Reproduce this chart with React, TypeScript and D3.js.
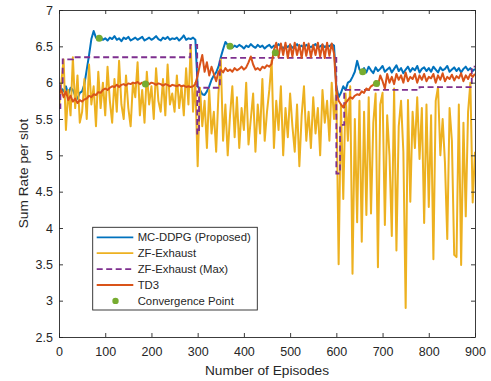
import React, { useRef, useEffect } from 'react';
import * as d3 from 'd3';

// sampled every 5 episodes (0..900)
const mcDdpg = [
  5.86, 5.92, 5.88, 5.95, 5.84, 5.93, 5.90, 5.82, 5.78, 5.86,
  5.88, 5.98, 6.18, 6.38, 6.60, 6.71, 6.62, 6.60, 6.63, 6.59,
  6.61, 6.58, 6.62, 6.60, 6.64, 6.59, 6.61, 6.57, 6.62, 6.60,
  6.63, 6.58, 6.60, 6.62, 6.59, 6.61, 6.63, 6.58, 6.60, 6.62,
  6.59, 6.61, 6.64, 6.60, 6.58, 6.62, 6.60, 6.63, 6.59, 6.61,
  6.60, 6.62, 6.58, 6.61, 6.65, 6.59, 6.61, 6.60, 6.62, 6.59,
  5.95, 5.90, 5.84, 5.83, 5.88, 5.95, 6.04, 6.10, 6.14, 6.22,
  6.35, 6.46, 6.56, 6.52, 6.50, 6.48, 6.51, 6.49, 6.52, 6.50,
  6.47, 6.51, 6.49, 6.53, 6.50, 6.48, 6.52, 6.49, 6.51, 6.47,
  6.50, 6.52, 6.48, 6.51, 6.49, 6.53, 6.50, 6.47, 6.51, 6.49,
  6.52, 6.48, 6.50, 6.53, 6.49, 6.51, 6.48, 6.52, 6.50, 6.49,
  6.51, 6.53, 6.48, 6.50, 6.52, 6.49, 6.51, 6.50, 6.53, 6.51,
  5.95, 5.80, 5.86, 5.95, 5.90, 6.00, 6.02, 6.08, 6.15, 6.30,
  6.18, 6.16, 6.20, 6.14, 6.22, 6.17, 6.13, 6.21, 6.16, 6.19,
  6.23, 6.15, 6.18, 6.21, 6.14, 6.19, 6.24, 6.16, 6.20, 6.13,
  6.18, 6.22, 6.15, 6.20, 6.17, 6.23, 6.14, 6.19, 6.21, 6.16,
  6.20, 6.15, 6.22, 6.18, 6.14, 6.21, 6.17, 6.19, 6.23, 6.15,
  6.18, 6.21, 6.16, 6.20, 6.14, 6.19, 6.22, 6.17, 6.20, 6.16,
  6.19,
];

const zfExhaust = [
  5.65, 6.00, 6.32, 5.35, 5.90, 5.55, 6.35, 5.65, 6.10, 5.45,
  5.60, 6.05, 5.50, 6.25, 5.70, 5.95, 5.40, 6.15, 5.65, 6.00,
  5.55, 6.22, 5.75, 5.45, 6.05, 5.60, 6.30, 5.70, 5.50, 6.10,
  5.65, 5.40, 6.00, 5.80, 6.28, 5.55, 5.90, 5.45, 6.15, 5.70,
  5.95, 5.50, 6.20, 5.75, 5.60, 6.05, 5.55, 6.25, 5.70, 5.85,
  5.60, 6.10, 5.65, 5.95, 5.55, 6.20, 5.70, 6.52, 5.60, 6.00,
  4.85, 5.93, 5.40, 5.75, 5.10, 5.90, 5.30, 5.60, 5.05, 5.85,
  6.32, 5.20, 5.70, 5.00, 5.55, 5.95, 5.25, 5.80, 5.10, 5.65,
  5.35, 6.00, 5.15, 5.50, 5.85, 5.05, 5.70, 5.30, 6.05, 5.20,
  5.60, 5.90, 6.30, 5.10, 5.75, 5.35, 5.95, 5.00, 5.65, 5.25,
  5.85, 5.40, 5.05, 5.70, 4.85, 5.55, 5.95, 5.20, 5.60, 5.10,
  5.80, 5.30, 5.65, 5.00, 5.90, 5.45, 5.75, 5.20, 6.00, 5.50,
  5.90, 3.50, 5.70, 4.40, 5.85, 5.20, 5.95, 3.37, 5.50, 4.08,
  5.75, 3.81, 5.60, 4.18, 5.80, 4.20, 5.45, 5.85, 3.46, 5.70,
  5.86, 4.04, 5.55, 5.00, 3.89, 5.92, 3.69, 5.40, 5.75, 5.05,
  2.90, 5.76, 4.36, 5.60, 5.10, 5.80, 4.95, 5.65, 4.07, 5.70,
  4.29, 5.55, 3.57, 5.75, 5.94, 5.00, 5.50, 4.90, 3.85, 5.65,
  5.20, 3.63, 3.60, 5.70, 3.49, 5.45, 4.16, 5.60, 6.00, 4.35,
  5.05,
];

const td3 = [
  5.85, 5.90, 5.80, 5.88, 5.76, 5.82, 5.74, 5.78, 5.72, 5.76,
  5.74, 5.77, 5.78, 5.82, 5.80, 5.84, 5.83, 5.87, 5.86, 5.90,
  5.92, 5.90, 5.93, 5.95, 5.94, 5.97, 5.94, 5.97, 5.98, 5.96,
  5.99, 5.98, 6.00, 5.99, 6.01, 5.98, 6.00, 5.99, 6.01, 5.98,
  6.00, 5.99, 5.97, 5.99, 5.98, 5.96, 5.98, 5.97, 5.95, 5.97,
  5.96, 5.95, 5.97, 5.95, 5.96, 5.94, 5.95, 5.94, 5.95, 5.98,
  6.10, 6.25, 6.38, 6.15, 6.28, 6.10, 6.22, 6.12, 6.02, 6.15,
  6.18, 6.14, 6.20, 6.16, 6.18, 6.15, 6.20, 6.17, 6.19, 6.22,
  6.18, 6.21, 6.28, 6.36, 6.25, 6.18, 6.20, 6.17, 6.22, 6.20,
  6.24, 6.22, 6.26, 6.45, 6.55, 6.35, 6.54, 6.38, 6.55, 6.34,
  6.53, 6.36, 6.55, 6.38, 6.52, 6.34, 6.55, 6.37, 6.54, 6.35,
  6.52, 6.38, 6.55, 6.36, 6.53, 6.34, 6.55, 6.37, 6.54, 6.40,
  5.90, 5.75, 5.70, 5.66, 5.72, 5.76, 5.80, 5.78, 5.82, 5.84,
  5.83, 5.88, 5.86, 5.92, 5.90, 5.95, 5.97, 6.02, 5.96, 6.10,
  6.02, 5.92, 6.12, 6.00, 6.08, 5.98, 6.12, 6.04, 6.10, 6.00,
  6.14, 6.02, 6.08, 6.05, 6.12, 6.00, 6.10, 6.04, 6.12, 6.02,
  6.08, 6.06, 6.12, 6.00, 6.10, 6.04, 6.13, 6.02, 6.08, 6.05,
  6.11, 6.03, 6.09, 6.06, 6.13, 6.02, 6.10, 6.05, 6.12, 6.08,
  6.12,
];

// step changes of the max curve
const maxEpisodes = [0, 3, 8, 30, 284, 299, 303, 348, 600, 608, 617, 780, 893, 900];
const maxValues = [5.65, 6.0, 6.32, 6.35, 6.52, 5.3, 5.93, 6.34, 4.75, 5.42, 5.9, 5.94, 6.22, 6.22];

const convEpisodes = [87, 187, 370, 468, 657, 687];
const convValues = [6.61, 5.98, 6.5, 6.41, 6.15, 5.99];

const xTicks = [0, 100, 200, 300, 400, 500, 600, 700, 800, 900];
const yTicks = [2.5, 3, 3.5, 4, 4.5, 5, 5.5, 6, 6.5, 7];

const legendItems = [
  { label: 'MC-DDPG (Proposed)', color: '#0072BD', kind: 'line' },
  { label: 'ZF-Exhaust', color: '#EDB120', kind: 'line' },
  { label: 'ZF-Exhaust (Max)', color: '#7E2F8E', kind: 'dash' },
  { label: 'TD3', color: '#D95319', kind: 'line' },
  { label: 'Convergence Point', color: '#77AC30', kind: 'dot' },
];

export default function App() {
  const svgRef = useRef<SVGSVGElement>(null);

  useEffect(() => {
    document.body.style.margin = '0';
    const width = 491;
    const height = 381;
    const left = 59, right = 475, top = 10, bottom = 337;
    const font = '"Liberation Sans", Arial, sans-serif';
    const ink = '#262626';

    const x = d3.scaleLinear().domain([0, 900]).range([left, right]);
    const y = d3.scaleLinear().domain([2.5, 7]).range([bottom, top]);

    const svg = d3.select(svgRef.current);
    svg.selectAll('*').remove();
    svg.attr('width', width).attr('height', height).attr('viewBox', [0, 0, width, height].join(' '));

    svg.append('rect').attr('width', width).attr('height', height).attr('fill', '#fff');

    svg.append('clipPath').attr('id', 'plot-clip')
      .append('rect').attr('x', left).attr('y', top).attr('width', right - left).attr('height', bottom - top);

    const plot = svg.append('g').attr('clip-path', 'url(#plot-clip)');

    const sampled = (vals: number[]) => vals.map((v, i) => [i * 5, v] as [number, number]);
    const line = d3.line<[number, number]>().x(d => x(d[0])).y(d => y(d[1]));

    plot.append('path').datum(sampled(mcDdpg))
      .attr('fill', 'none').attr('stroke', '#0072BD').attr('stroke-width', 2)
      .attr('stroke-linejoin', 'round').attr('d', line);

    plot.append('path').datum(sampled(zfExhaust))
      .attr('fill', 'none').attr('stroke', '#EDB120').attr('stroke-width', 2)
      .attr('stroke-linejoin', 'round').attr('d', line);

    const stepLine = d3.line<[number, number]>().x(d => x(d[0])).y(d => y(d[1])).curve(d3.curveStepAfter);
    plot.append('path').datum(maxEpisodes.map((e, i) => [e, maxValues[i]] as [number, number]))
      .attr('fill', 'none').attr('stroke', '#7E2F8E').attr('stroke-width', 1.8)
      .attr('stroke-dasharray', '6,3.5').attr('d', stepLine);

    plot.append('path').datum(sampled(td3))
      .attr('fill', 'none').attr('stroke', '#D95319').attr('stroke-width', 2)
      .attr('stroke-linejoin', 'round').attr('d', line);

    plot.append('g').attr('fill', '#77AC30')
      .selectAll('circle')
      .data(convEpisodes)
      .join('circle')
      .attr('cx', d => x(d))
      .attr('cy', (d, i) => y(convValues[i]))
      .attr('r', 3.5);

    // axes (ticks inside, box on)
    const styleAxis = (g: any) => {
      g.select('.domain').attr('stroke', ink).attr('stroke-width', 0.9);
      g.selectAll('.tick line').attr('stroke', ink).attr('stroke-width', 0.9);
      g.selectAll('.tick text').attr('fill', ink).attr('font-size', 12.5).attr('font-family', font);
    };

    svg.append('g')
      .attr('transform', `translate(0,${bottom})`)
      .call(d3.axisBottom(x).tickValues(xTicks).tickSizeInner(-4).tickSizeOuter(0).tickPadding(10))
      .call(styleAxis);

    svg.append('g')
      .attr('transform', `translate(0,${top})`)
      .call(d3.axisTop(x).tickValues(xTicks).tickSizeInner(-4).tickSizeOuter(0).tickFormat(() => ''))
      .call(styleAxis);

    svg.append('g')
      .attr('transform', `translate(${left},0)`)
      .call(d3.axisLeft(y).tickValues(yTicks).tickSizeInner(-4).tickSizeOuter(0).tickPadding(6)
        .tickFormat(d => String(d)))
      .call(styleAxis);

    svg.append('g')
      .attr('transform', `translate(${right},0)`)
      .call(d3.axisRight(y).tickValues(yTicks).tickSizeInner(-4).tickSizeOuter(0).tickFormat(() => ''))
      .call(styleAxis);

    svg.append('text')
      .attr('x', (left + right) / 2).attr('y', 374.5)
      .attr('text-anchor', 'middle').attr('font-family', font).attr('font-size', 13.7).attr('fill', ink)
      .text('Number of Episodes');

    svg.append('text')
      .attr('transform', `translate(28,${(top + bottom) / 2}) rotate(-90)`)
      .attr('text-anchor', 'middle').attr('font-family', font).attr('font-size', 13.7).attr('fill', ink)
      .text('Sum Rate per slot');

    // legend
    const legend = svg.append('g');
    legend.append('rect')
      .attr('x', 92.7).attr('y', 227.3).attr('width', 164.6).attr('height', 82.7)
      .attr('fill', '#fff').attr('stroke', ink).attr('stroke-width', 0.9);

    legendItems.forEach((item, i) => {
      const ly = 237.3 + i * 15.9;
      if (item.kind === 'dot') {
        legend.append('circle').attr('cx', 115.5).attr('cy', ly).attr('r', 3.2).attr('fill', item.color);
      } else {
        legend.append('line')
          .attr('x1', 96.7).attr('x2', 133.3).attr('y1', ly).attr('y2', ly)
          .attr('stroke', item.color).attr('stroke-width', 1.8)
          .attr('stroke-dasharray', item.kind === 'dash' ? '6,3.5' : null);
      }
      legend.append('text')
        .attr('x', 137.7).attr('y', ly).attr('dy', '0.35em')
        .attr('font-family', font).attr('font-size', 11.3).attr('fill', ink)
        .text(item.label);
    });
  }, []);

  return (
    <div style={{ width: 491, height: 381 }}>
      <svg ref={svgRef} style={{ display: 'block' }}></svg>
    </div>
  );
}
